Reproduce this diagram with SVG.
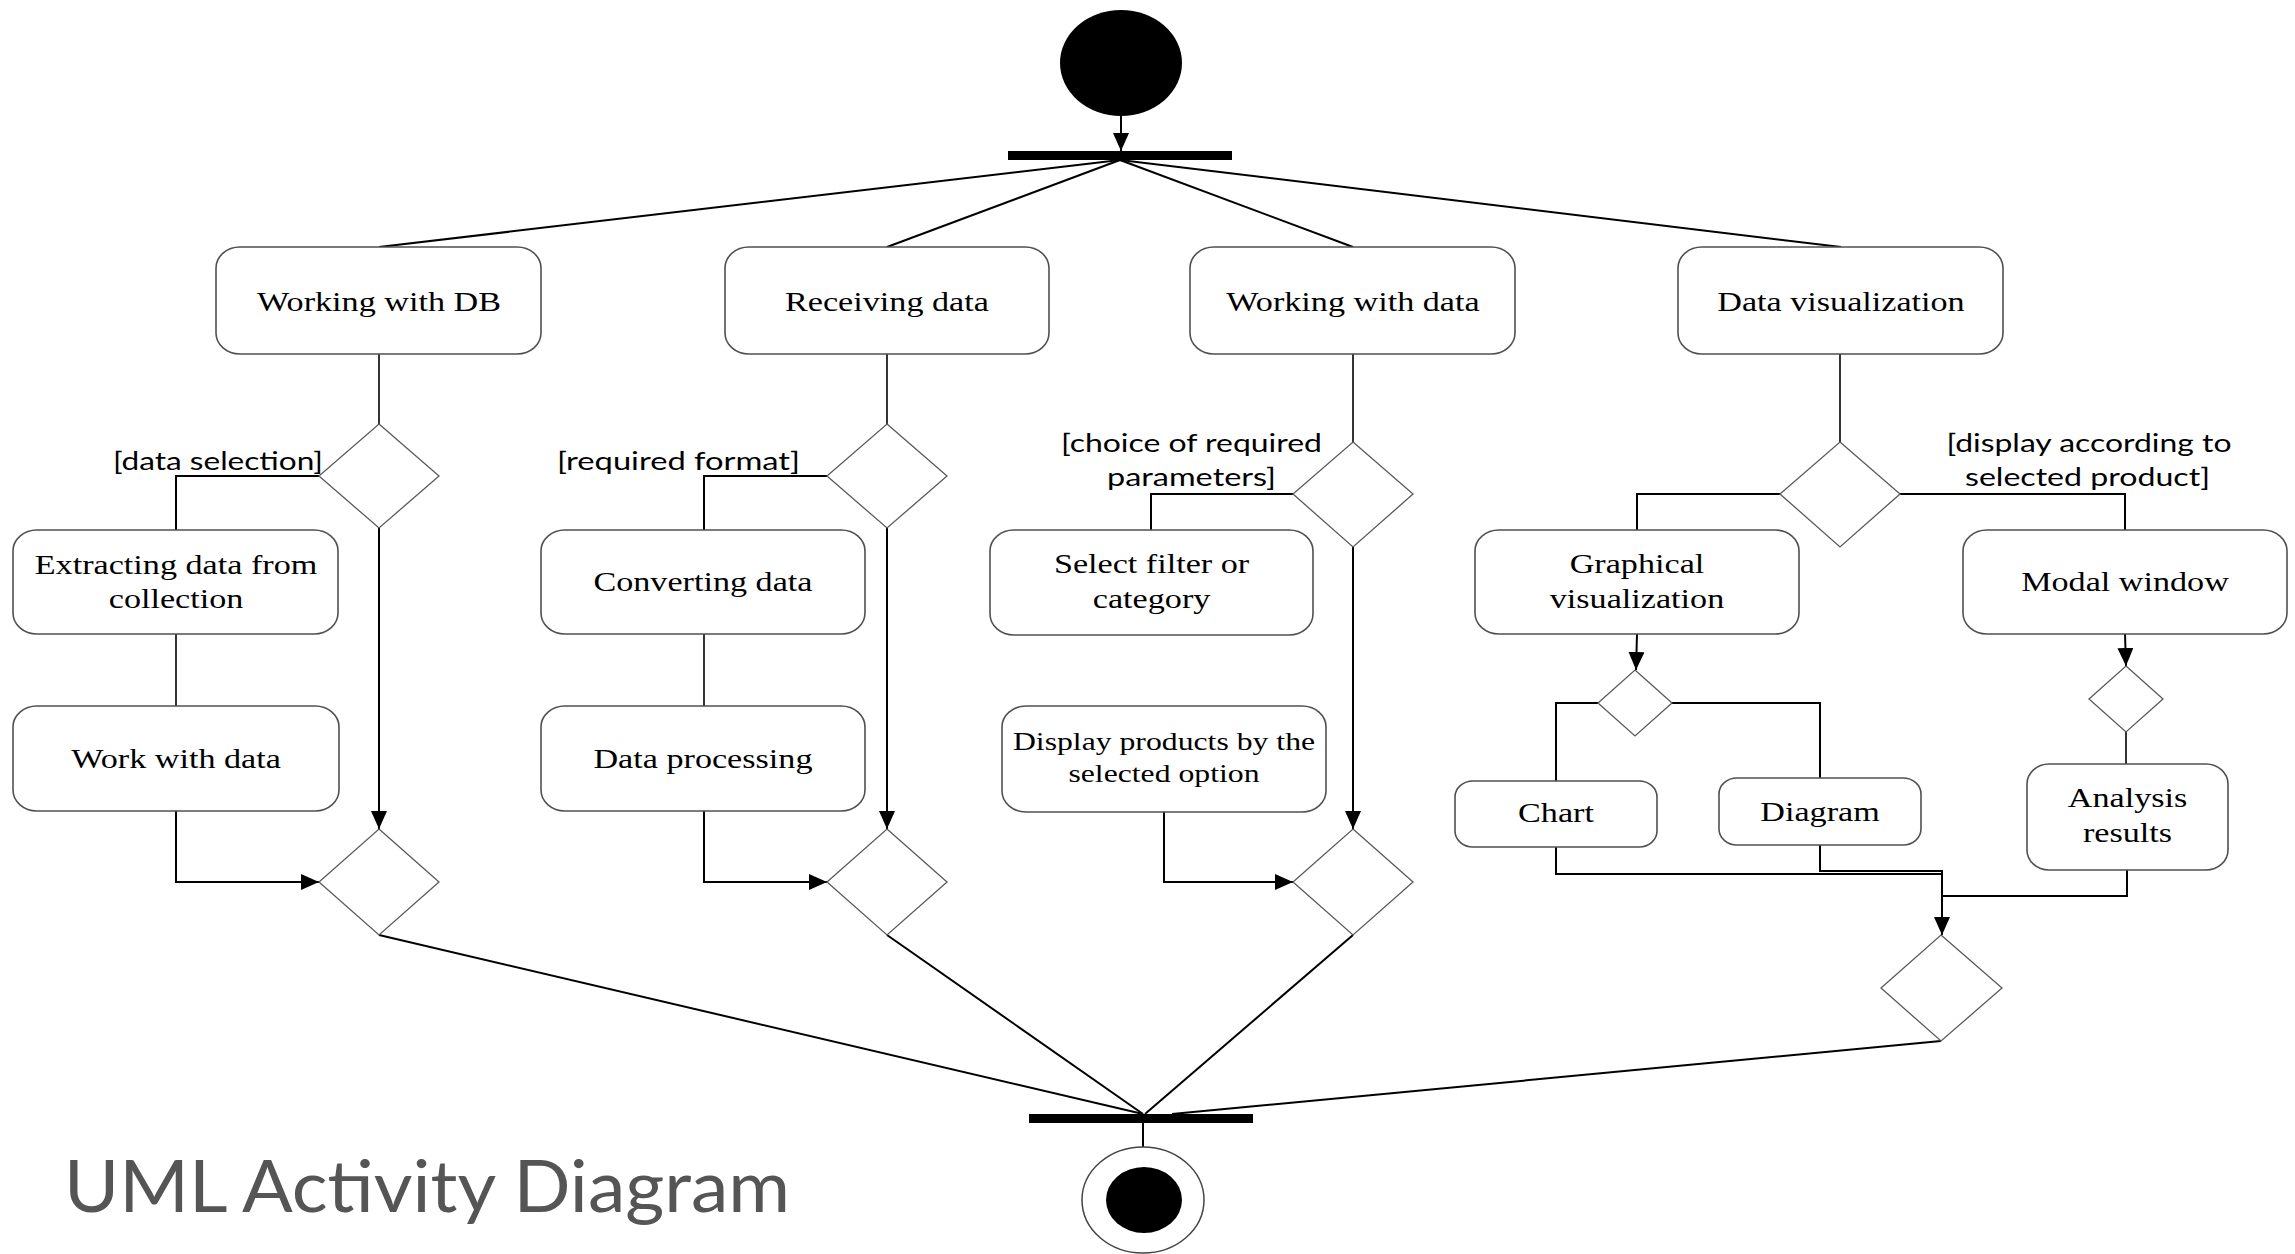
<svg xmlns="http://www.w3.org/2000/svg" width="2295" height="1254" viewBox="0 0 2295 1254">
<defs>
<style>
.box{fill:#fff;stroke:#505050;stroke-width:1.6}
.dia{fill:#fff;stroke:#5a5a5a;stroke-width:1.3}
.t{font-family:"Liberation Serif","Times New Roman",serif;font-size:28px;fill:#000;text-anchor:middle}
.ts{font-family:"Liberation Serif","Times New Roman",serif;font-size:26px;fill:#000;text-anchor:middle}
.lbl{font-family:Lato,"Liberation Sans",sans-serif;font-size:25px;fill:#000;text-anchor:middle}
.c{fill:none;stroke:#000;stroke-width:2}
.ct{fill:none;stroke:#000;stroke-width:1.6}
</style>
<marker id="arr" markerUnits="userSpaceOnUse" markerWidth="20" markerHeight="18" refX="18" refY="8" orient="auto">
<path d="M0,0 L18,8 L0,16 z" fill="#000"/>
</marker>
</defs>
<rect width="2295" height="1254" fill="#fff"/>

<g id="connectors">
<line class="c" x1="1121" y1="116" x2="1121" y2="151" marker-end="url(#arr)"/>
<line class="c" x1="1120" y1="160" x2="379" y2="247"/>
<line class="c" x1="1120" y1="160" x2="887" y2="247"/>
<line class="c" x1="1120" y1="160" x2="1353" y2="247"/>
<line class="c" x1="1120" y1="160" x2="1841" y2="247"/>
<!-- column 1 -->
<line class="ct" x1="379" y1="354" x2="379" y2="424"/>
<path class="c" d="M319,476 H176 V530"/>
<line class="ct" x1="176" y1="634" x2="176" y2="706"/>
<path class="c" d="M176,811 V882 H319" marker-end="url(#arr)"/>
<line class="c" x1="379" y1="528" x2="379" y2="829" marker-end="url(#arr)"/>
<line class="c" x1="379" y1="935" x2="1143" y2="1114"/>
<!-- column 2 -->
<line class="ct" x1="887" y1="354" x2="887" y2="424"/>
<path class="c" d="M827,476 H704 V530"/>
<line class="ct" x1="704" y1="634" x2="704" y2="706"/>
<path class="c" d="M704,811 V882 H827" marker-end="url(#arr)"/>
<line class="c" x1="887" y1="528" x2="887" y2="829" marker-end="url(#arr)"/>
<line class="c" x1="887" y1="935" x2="1143" y2="1114"/>
<!-- column 3 -->
<line class="ct" x1="1353" y1="354" x2="1353" y2="442"/>
<path class="c" d="M1293,494 H1151 V530"/>
<path class="c" d="M1164,812 V882 H1293" marker-end="url(#arr)"/>
<line class="c" x1="1353" y1="547" x2="1353" y2="829" marker-end="url(#arr)"/>
<line class="c" x1="1353" y1="935" x2="1145" y2="1114"/>
<!-- column 4 -->
<line class="ct" x1="1840" y1="354" x2="1840" y2="442"/>
<path class="c" d="M1780,494 H1637 V530"/>
<path class="c" d="M1900,494 H2125 V530"/>
<line class="c" x1="1637" y1="634" x2="1636" y2="670" marker-end="url(#arr)"/>
<path class="c" d="M1598,703 H1556 V781"/>
<path class="c" d="M1672,703 H1820 V778"/>
<path class="c" d="M1556,847 V874 H1941"/>
<path class="c" d="M1820,845 V871 H1943"/>
<line class="c" x1="2125" y1="634" x2="2126" y2="666" marker-end="url(#arr)"/>
<line class="ct" x1="2126" y1="732" x2="2126" y2="764"/>
<path class="c" d="M2127,870 V896 H1941"/>
<line class="c" x1="1942" y1="870" x2="1942" y2="935" marker-end="url(#arr)"/>
<line class="c" x1="1941" y1="1041" x2="1172" y2="1114"/>
<line class="c" x1="1143" y1="1123" x2="1143" y2="1147"/>
</g>

<g id="start"><ellipse cx="1121" cy="63" rx="61" ry="53" fill="#000"/></g>
<g id="fork"><rect x="1008" y="151" width="224" height="9" fill="#000"/></g>

<g id="working-with-db"><rect class="box" x="216" y="247" width="325" height="107" rx="24" ry="21"/><text class="t" transform="scale(1.22 1)" x="310.7" y="311">Working with DB</text></g>
<g id="receiving-data"><rect class="box" x="725" y="247" width="324" height="107" rx="24" ry="21"/><text class="t" transform="scale(1.22 1)" x="727" y="311">Receiving data</text></g>
<g id="working-with-data"><rect class="box" x="1190" y="247" width="325" height="107" rx="24" ry="21"/><text class="t" transform="scale(1.22 1)" x="1109" y="311">Working with data</text></g>
<g id="data-visualization"><rect class="box" x="1678" y="247" width="325" height="107" rx="24" ry="21"/><text class="t" transform="scale(1.22 1)" x="1509" y="311">Data visualization</text></g>

<g id="dec-db"><polygon class="dia" points="379,424 439,476 379,528 319,476"/><text class="lbl" x="218" y="470" textLength="210" lengthAdjust="spacingAndGlyphs">[data selection]</text></g>
<g id="dec-recv"><polygon class="dia" points="887,424 947,476 887,528 827,476"/><text class="lbl" x="678.5" y="470" textLength="243" lengthAdjust="spacingAndGlyphs">[required format]</text></g>
<g id="dec-work"><polygon class="dia" points="1353,442 1413,494 1353,547 1293,494"/><text class="lbl" x="1191.5" y="452" textLength="261" lengthAdjust="spacingAndGlyphs">[choice of required</text><text class="lbl" x="1191.5" y="486" textLength="169" lengthAdjust="spacingAndGlyphs">parameters]</text></g>
<g id="dec-vis"><polygon class="dia" points="1840,442 1900,494 1840,547 1780,494"/><text class="lbl" x="2089" y="452" textLength="285" lengthAdjust="spacingAndGlyphs">[display according to</text><text class="lbl" x="2087.5" y="486" textLength="245" lengthAdjust="spacingAndGlyphs">selected product]</text></g>

<g id="extracting"><rect class="box" x="13" y="530" width="325" height="104" rx="24" ry="21"/><text class="t" transform="scale(1.22 1)" x="144.3" y="574">Extracting data from</text><text class="t" transform="scale(1.22 1)" x="144.3" y="608">collection</text></g>
<g id="work-with-data"><rect class="box" x="13" y="706" width="326" height="105" rx="24" ry="21"/><text class="t" transform="scale(1.22 1)" x="144.3" y="768">Work with data</text></g>
<g id="converting"><rect class="box" x="541" y="530" width="324" height="104" rx="24" ry="21"/><text class="t" transform="scale(1.22 1)" x="576.2" y="591">Converting data</text></g>
<g id="processing"><rect class="box" x="541" y="706" width="324" height="105" rx="24" ry="21"/><text class="t" transform="scale(1.22 1)" x="576.2" y="768">Data processing</text></g>
<g id="select-filter"><rect class="box" x="990" y="530" width="323" height="105" rx="24" ry="21"/><text class="t" transform="scale(1.22 1)" x="943.9" y="573">Select filter or</text><text class="t" transform="scale(1.22 1)" x="943.9" y="608">category</text></g>
<g id="display-products"><rect class="box" x="1002" y="706" width="324" height="106" rx="24" ry="21"/><text class="ts" transform="scale(1.22 1)" x="954.1" y="750">Display products by the</text><text class="ts" transform="scale(1.22 1)" x="954.1" y="782">selected option</text></g>
<g id="graphical"><rect class="box" x="1475" y="530" width="324" height="104" rx="24" ry="21"/><text class="t" transform="scale(1.22 1)" x="1341.8" y="573">Graphical</text><text class="t" transform="scale(1.22 1)" x="1341.8" y="608">visualization</text></g>
<g id="modal-window"><rect class="box" x="1963" y="530" width="324" height="104" rx="24" ry="21"/><text class="t" transform="scale(1.22 1)" x="1741.8" y="591">Modal window</text></g>

<g id="dec-graph"><polygon class="dia" points="1635,670 1672,703 1635,736 1598,703"/></g>
<g id="dec-modal"><polygon class="dia" points="2126,666 2163,699 2126,732 2089,699"/></g>

<g id="chart"><rect class="box" x="1455" y="781" width="202" height="66" rx="18" ry="16"/><text class="t" transform="scale(1.22 1)" x="1275.4" y="822">Chart</text></g>
<g id="diagram"><rect class="box" x="1719" y="778" width="202" height="67" rx="18" ry="16"/><text class="t" transform="scale(1.22 1)" x="1491.8" y="821">Diagram</text></g>
<g id="analysis"><rect class="box" x="2027" y="764" width="201" height="106" rx="22" ry="20"/><text class="t" transform="scale(1.22 1)" x="1743.9" y="807">Analysis</text><text class="t" transform="scale(1.22 1)" x="1743.9" y="842">results</text></g>

<g id="merge-db"><polygon class="dia" points="379,829 439,882 379,935 319,882"/></g>
<g id="merge-recv"><polygon class="dia" points="887,829 947,882 887,935 827,882"/></g>
<g id="merge-work"><polygon class="dia" points="1353,829 1413,882 1353,935 1293,882"/></g>
<g id="merge-vis"><polygon class="dia" points="1941,935 2002,988 1941,1041 1881,988"/></g>

<g id="join"><rect x="1029" y="1114" width="224" height="9" fill="#000"/></g>
<g id="end"><ellipse cx="1143" cy="1200" rx="61" ry="53" fill="#fff" stroke="#444" stroke-width="1.5"/><ellipse cx="1144" cy="1200" rx="38" ry="33" fill="#000"/></g>

<g id="title"><text x="64" y="1212" font-family="Lato,'Liberation Sans',sans-serif" font-size="72" fill="#555" textLength="726" lengthAdjust="spacingAndGlyphs">UML Activity Diagram</text></g>
</svg>
